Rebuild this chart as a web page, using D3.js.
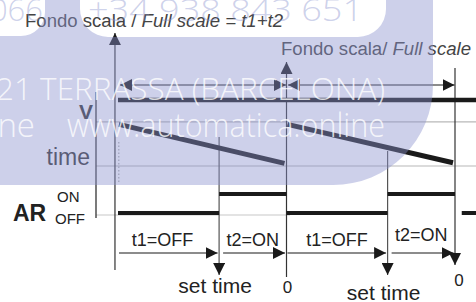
<!DOCTYPE html>
<html lang="en">
<head>
<meta charset="UTF-8">
<title>Timer t1 / t2</title>
<script src="https://d3js.org/d3.v7.min.js"></script>
<style>
  body { margin: 0; background: #fff; }
  svg { display: block; font-family: "Liberation Sans", Arial, sans-serif; }
  .wm { font-family: "Open Sans", "Noto Sans", sans-serif; font-weight: 300; white-space: pre; }
</style>
</head>
<body>
<script>
// time in tenths of the full scale: t1 = 6, t2 = 4
const cycleStarts = [0, 10];
const cycleEnds = [10, 20];
const setTimes = [6, 16];
const rampTop = [0.63, 0.63];
const rampBottom = [0.04, 0.05];
const arStates = [
  { from: 0, to: 6, on: 0 },
  { from: 6, to: 10, on: 1 },
  { from: 10, to: 16, on: 0 },
  { from: 16, to: 20, on: 1 },
  { from: 20.4, to: 21.5, on: 0 }
];
const spanEdges = [0, 6, 10, 16, 20];
const spanLabels = ["t1=OFF", "t2=ON", "t1=OFF", "t2=ON"];

const width = 476, height = 302;
const svg = d3.select("body").append("svg")
    .attr("width", width)
    .attr("height", height);

const x = d3.scaleLinear().domain([0, 20]).range([118, 455]);
const yV = d3.scaleLinear().domain([0, 1]).range([166, 100]);
const yAR = d3.scaleLinear().domain([0, 1]).range([213, 194]);
const rowSpan = 85, rowArrow = 253;

const ink = "#1a1a1a", thin = "#333";

const defs = svg.append("defs");
defs.append("marker")
    .attr("id", "head")
    .attr("viewBox", "0 0 12 12")
    .attr("refX", 12).attr("refY", 6)
    .attr("markerWidth", 12).attr("markerHeight", 12)
    .attr("markerUnits", "userSpaceOnUse")
    .attr("orient", "auto-start-reverse")
  .append("path")
    .attr("d", "M0,0L12,6L0,12Z")
    .attr("fill", ink);

const g = svg.append("g");

// grid lines
g.selectAll(".grid")
  .data([yV(0.67), yV(0)])
  .enter().append("line")
    .attr("x1", 96).attr("x2", width)
    .attr("y1", d => d).attr("y2", d => d)
    .attr("stroke", "#b8b8b8").attr("stroke-width", 1.2);
g.append("line")
    .attr("x1", 96).attr("x2", 290)
    .attr("y1", 215).attr("y2", 215)
    .attr("stroke", "#c8c8c8").attr("stroke-width", 1.2);

// left axis
g.append("line")
    .attr("x1", 96).attr("x2", 96)
    .attr("y1", 92).attr("y2", 218)
    .attr("stroke", thin).attr("stroke-width", 1.3);

// dotted start line
g.append("line")
    .attr("x1", x(0.05)).attr("x2", x(0.05))
    .attr("y1", 142).attr("y2", 182)
    .attr("stroke", "#999").attr("stroke-dasharray", "1.5,2");

// vertical lines with arrow heads (full scale)
g.append("line")
    .attr("x1", x(-0.18)).attr("x2", x(-0.18))
    .attr("y1", 270).attr("y2", 33)
    .attr("stroke", thin).attr("stroke-width", 1.2)
    .attr("marker-end", "url(#head)");
g.append("line")
    .attr("x1", x(10)).attr("x2", x(10))
    .attr("y1", 277).attr("y2", 62)
    .attr("stroke", thin).attr("stroke-width", 1.2)
    .attr("marker-end", "url(#head)");
g.append("line")
    .attr("x1", x(20)).attr("x2", x(20))
    .attr("y1", 68).attr("y2", 265)
    .attr("stroke", thin).attr("stroke-width", 1.2)
    .attr("marker-end", "url(#head)");

// set time lines
g.selectAll(".set")
  .data(setTimes)
  .enter().append("line")
    .attr("x1", d => x(d)).attr("x2", d => x(d))
    .attr("y1", (d, i) => i === 0 ? 137 : 151).attr("y2", 275)
    .attr("stroke", "#555").attr("stroke-width", 1.2)
    .attr("marker-end", "url(#head)");

// full-scale span arrows
g.selectAll(".span")
  .data(cycleStarts)
  .enter().append("line")
    .attr("x1", (d, i) => x(d) + (i === 0 ? 2 : 1.5))
    .attr("x2", (d, i) => x(cycleEnds[i]) - 0.5)
    .attr("y1", rowSpan).attr("y2", rowSpan)
    .attr("stroke", ink).attr("stroke-width", 1.2)
    .attr("marker-start", "url(#head)")
    .attr("marker-end", "url(#head)");

// V: full scale level
g.append("line")
    .attr("x1", x(0)).attr("x2", width)
    .attr("y1", yV(1)).attr("y2", yV(1))
    .attr("stroke", ink).attr("stroke-width", 4.5);

// V: ramps
g.selectAll(".ramp")
  .data(cycleStarts)
  .enter().append("line")
    .attr("x1", d => x(d) + 1)
    .attr("x2", (d, i) => x(cycleEnds[i]) - 2)
    .attr("y1", (d, i) => yV(rampTop[i]))
    .attr("y2", (d, i) => yV(rampBottom[i]))
    .attr("stroke", ink).attr("stroke-width", 5);

// AR output
g.selectAll(".ar")
  .data(arStates)
  .enter().append("line")
    .attr("x1", d => x(d.from))
    .attr("x2", d => Math.min(x(d.to), width))
    .attr("y1", d => yAR(d.on)).attr("y2", d => yAR(d.on))
    .attr("stroke", ink).attr("stroke-width", 4);

// t1 / t2 arrows
g.selectAll(".seg")
  .data(spanLabels)
  .enter().append("line")
    .attr("x1", (d, i) => x(spanEdges[i]) + (i % 2 ? 4 : 1))
    .attr("x2", (d, i) => x(spanEdges[i + 1]) - 1.5)
    .attr("y1", rowArrow).attr("y2", rowArrow)
    .attr("stroke", ink).attr("stroke-width", 1.2)
    .attr("marker-end", "url(#head)");

g.selectAll(".segLabel")
  .data(spanLabels)
  .enter().append("text")
    .attr("x", (d, i) => (x(spanEdges[i]) + x(spanEdges[i + 1])) / 2 - (i === 0 ? 6 : 0))
    .attr("y", (d, i) => i === 3 ? 241 : 246)
    .attr("text-anchor", "middle")
    .attr("font-size", 18)
    .attr("fill", "#222")
    .text(d => d);

// set time / 0 labels
g.selectAll(".setLabel")
  .data(setTimes)
  .enter().append("text")
    .attr("x", d => x(d) - 4)
    .attr("y", (d, i) => i === 0 ? 293 : 300)
    .attr("text-anchor", "middle")
    .attr("font-size", 21)
    .attr("fill", "#222")
    .text("set time");
g.selectAll(".zero")
  .data(cycleEnds)
  .enter().append("text")
    .attr("x", (d, i) => x(d) + (i === 0 ? 1 : 4))
    .attr("y", (d, i) => i === 0 ? 293 : 286)
    .attr("text-anchor", "middle")
    .attr("font-size", 17)
    .attr("fill", "#222")
    .text("0");

// axis labels
g.append("text").attr("x", 86).attr("y", 119).attr("text-anchor", "middle")
    .attr("font-size", 21).attr("font-weight", "bold").attr("fill", "#333").text("V");
g.append("text").attr("x", 90).attr("y", 165).attr("text-anchor", "end")
    .attr("font-size", 23).attr("fill", "#333").text("time");
g.append("text").attr("x", 13).attr("y", 221)
    .attr("font-size", 23).attr("font-weight", "bold").attr("fill", "#222").text("AR");
g.append("text").attr("x", 57).attr("y", 202)
    .attr("font-size", 15).attr("fill", "#222").text("ON");
g.append("text").attr("x", 55).attr("y", 224)
    .attr("font-size", 15).attr("fill", "#222").text("OFF");

// titles
const t1 = g.append("text").attr("x", 25).attr("y", 27)
    .attr("font-size", 18).attr("fill", "#444")
    .attr("textLength", 258).attr("lengthAdjust", "spacingAndGlyphs");
t1.append("tspan").text("Fondo scala / ");
t1.append("tspan").attr("font-style", "italic").text("Full scale = t1+t2");
const t2 = g.append("text").attr("x", 281).attr("y", 55)
    .attr("font-size", 18).attr("fill", "#444")
    .attr("textLength", 190).attr("lengthAdjust", "spacingAndGlyphs");
t2.append("tspan").text("Fondo scala/ ");
t2.append("tspan").attr("font-style", "italic").text("Full scale");

// watermark overlay
const lav = "rgb(138,147,206)", lavAlpha = 0.43;
function pill(p, x0, y0, w, h, r) {
  p.moveTo(x0 + r, y0);
  p.lineTo(x0 + w - r, y0);
  p.arcTo(x0 + w, y0, x0 + w, y0 + r, r);
  p.lineTo(x0 + w, y0 + h - r);
  p.arcTo(x0 + w, y0 + h, x0 + w - r, y0 + h, r);
  p.lineTo(x0 + r, y0 + h);
  p.arcTo(x0, y0 + h, x0, y0 + h - r, r);
  p.lineTo(x0, y0 + r);
  p.arcTo(x0, y0, x0 + r, y0, r);
  p.closePath();
}
const wp = d3.path();
wp.moveTo(0, 0);
wp.lineTo(433, 0);
wp.lineTo(433, 85);
wp.arc(333, 85, 100, 0, Math.PI / 2);
wp.lineTo(0, 185);
wp.closePath();
pill(wp, -60, -40, 105, 76, 24);
pill(wp, 80, -40, 306, 77, 28);

const wm = svg.append("g").attr("class", "wm");
wm.append("path")
    .attr("d", wp.toString())
    .attr("fill", lav).attr("fill-opacity", lavAlpha)
    .attr("fill-rule", "evenodd");
wm.append("text").attr("x", 43).attr("y", 21).attr("text-anchor", "end")
    .attr("font-size", 31).attr("fill", lav).attr("fill-opacity", lavAlpha).text("066");
wm.append("text").attr("x", 88).attr("y", 21)
    .attr("font-size", 31).attr("fill", lav).attr("fill-opacity", lavAlpha)
    .attr("textLength", 275).attr("lengthAdjust", "spacingAndGlyphs")
    .text("+34 938 843 651");
wm.append("text").attr("x", -4).attr("y", 100)
    .attr("font-size", 32).attr("fill", "#fff").attr("fill-opacity", 0.8)
    .attr("textLength", 389).attr("lengthAdjust", "spacingAndGlyphs")
    .text("21 TERRASSA  (BARCELONA)");
wm.append("text").attr("x", 35).attr("y", 137).attr("text-anchor", "end")
    .attr("font-size", 33).attr("fill", "#fff").attr("fill-opacity", 0.8)
    .text("online");
wm.append("text").attr("x", 67).attr("y", 137)
    .attr("font-size", 33).attr("fill", "#fff").attr("fill-opacity", 0.8)
    .attr("textLength", 318).attr("lengthAdjust", "spacingAndGlyphs")
    .text("www.automatica.online");
</script>
</body>
</html>
